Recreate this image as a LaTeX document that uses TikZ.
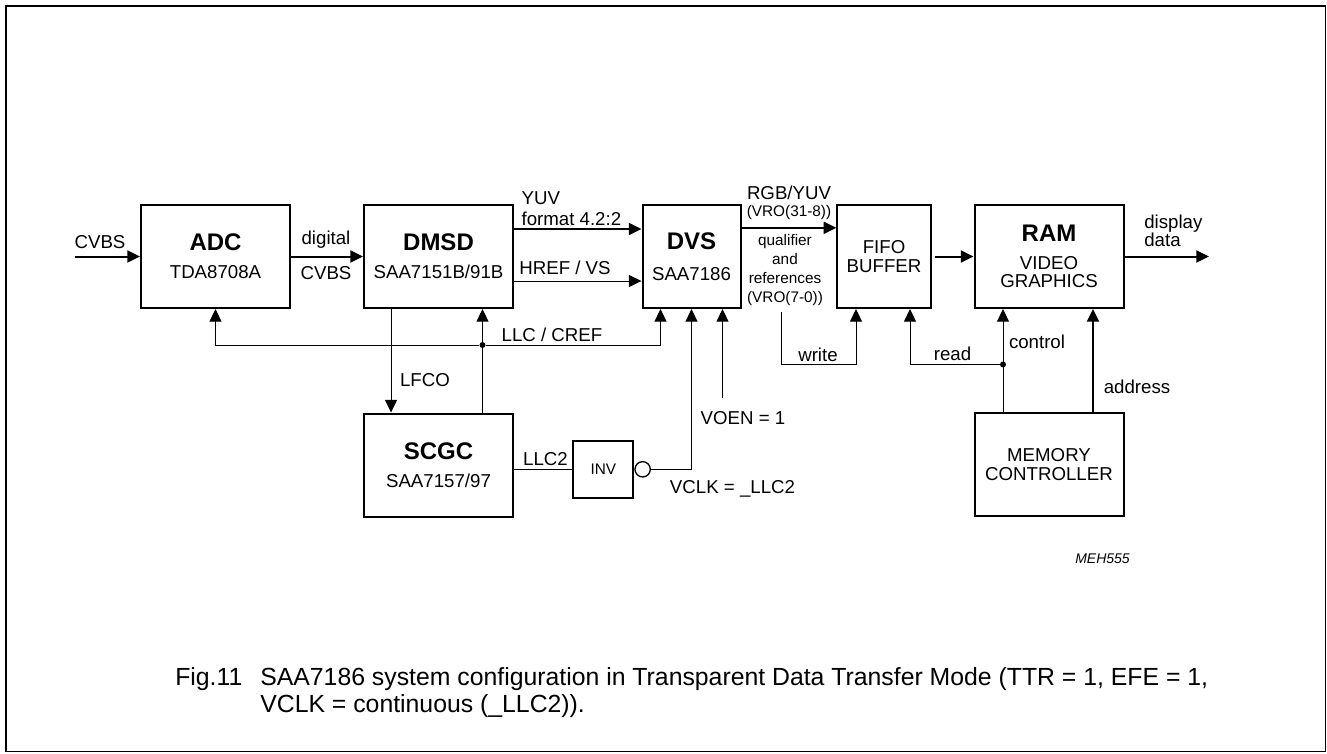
\documentclass[tikz,border=0pt]{standalone}
\usepackage{fontspec}
\setmainfont{Liberation Sans}
\usepackage{tikz}
\usetikzlibrary{arrows.meta}
\newcommand{\blocktitle}{\fontsize{18}{20}\bfseries\selectfont}
\newcommand{\labeltext}{\fontsize{14}{13.9}\selectfont}
\newcommand{\smalltext}{\fontsize{11.5}{14.25}\selectfont}
\newcommand{\captiontext}{\fontsize{18.6}{20.8}\selectfont}

\begin{document}
\begin{tikzpicture}[x=0.75pt,y=-0.75pt,font=\labeltext,
    every node/.style={inner sep=1pt},
    blockbox/.style={draw,line width=1.5pt,inner sep=0pt,align=center,
        minimum width=111.75pt,minimum height=77.25pt},
    invbox/.style={draw,line width=1.5pt,inner sep=0pt,font=\smalltext,
        minimum width=45pt,minimum height=42.75pt},
    bubble/.style={draw,circle,line width=1pt,inner sep=0pt,minimum size=11.5pt},
    dot/.style={circle,fill,inner sep=0pt,minimum size=4.5pt},
    bigarrow/.style={line width=1.5pt,-{Triangle[length=9.5pt,width=9pt]}},
    thinarrow/.style={line width=0.75pt,-{Triangle[length=9.5pt,width=9pt]}},
    thinline/.style={line width=0.75pt}]
            \useasboundingbox (0,0) rectangle (1327,753);
            \draw[line width=1.1pt] (6,6) rectangle (1325.5,751.5);

            \node[blockbox]                     (adc)    at ( 215.5,256.5) {{\blocktitle ADC}\\[7pt]TDA8708A};
            \node[blockbox]                     (dmsd)   at ( 438.5,256.5) {{\blocktitle DMSD}\\[7pt]SAA7151B/91B};
            \node[blockbox,minimum width=73.5pt](dvs)    at ( 691.5,256.5) {{\blocktitle DVS}\\[9pt]SAA7186};
            \node[blockbox,minimum width=70pt]  (fifo)   at ( 884.0,256.5) {FIFO\\BUFFER};
            \node[blockbox]                     (ram)    at (1049.0,256.5) {{\blocktitle RAM}\\[7pt]VIDEO\\GRAPHICS};
            \node[blockbox]                     (scgc)   at ( 438.5,465.0) {{\blocktitle SCGC}\\[7pt]SAA7157/97};
            \node[blockbox]                     (memctl) at (1049.0,464.5) {MEMORY\\CONTROLLER};
            \node[invbox]                       (inv)    at ( 603.3,469.3) {INV};
            \node[bubble,anchor=west]           (bub)    at (inv.east) {};

            \coordinate (cvbsin)  at (75,256.5);
            \coordinate (dispout) at (1209,256.5);
            \coordinate (voenin)  at (722.5,398);
            \coordinate (wrtop)   at (781.5,312);
            \coordinate (llcup)   at ([xshift=33pt]scgc.north);
            \coordinate (ctlup)   at ([xshift=-34.5pt]memctl.north);
            \node[dot] (busdot) at (llcup |- 0,345) {};
            \node[dot] (ctldot) at (ctlup |- 0,364.5) {};

            \draw[bigarrow]  (cvbsin) -- (adc.west);
            \draw[bigarrow]  (adc) -- (dmsd);
            \draw[bigarrow]  ([yshift=20.6pt]dmsd.east) -- ([yshift=20.6pt]dvs.west);
            \draw[thinarrow] ([yshift=-18.4pt]dmsd.east) -- ([yshift=-18.4pt]dvs.west);
            \draw[bigarrow]  ([yshift=21.5pt]dvs.east) -- ([yshift=21.5pt]fifo.west);
            \draw[bigarrow,shorten <=2.5pt] (fifo) -- (ram);
            \draw[bigarrow]  (ram.east) -- (dispout);

            \draw[thinarrow] (llcup) -- (llcup |- dmsd.south);
            \draw[thinarrow] (busdot) -| (adc.south);
            \draw[thinarrow] (busdot) -| ([xshift=-23.25pt]dvs.south);
            \draw[thinarrow] ([xshift=-35.6pt]dmsd.south) -- ([xshift=-35.6pt]scgc.north);
            \draw[thinline]  (scgc.east |- inv.west) -- (inv.west);
            \draw[thinarrow] (bub.east) -| (dvs.south);
            \draw[thinarrow] (voenin) -- (voenin |- dvs.south);

            \draw[thinarrow] (wrtop) -- (wrtop |- 0,364.5) -| ([xshift=-21pt]fifo.south);
            \draw[thinarrow] (ctldot) -| ([xshift=19.5pt]fifo.south);
            \draw[thinarrow] (ctlup) -- (ctlup |- ram.south);
            \draw[bigarrow]  ([xshift=33pt]memctl.north) -- ([xshift=33pt]ram.south);

            \node                       (lcvbs)    at ( 100.0,242.0) {CVBS};
            \node                       (ldigital) at ( 326.0,240.0) {digital};
            \node                       (ldcvbs)   at ( 326.0,273.0) {CVBS};
            \node[align=left,anchor=west] (lyuv)   at ( 520.0,208.5) {YUV\\[2pt]format 4.2:2};
            \node                       (lhref)    at ( 565.0,268.0) {HREF / VS};
            \node                       (lllc)     at ( 552.0,335.0) {LLC / CREF};
            \node                       (llfco)    at ( 425.0,380.0) {LFCO};
            \node                       (lllctwo)  at ( 545.5,459.0) {LLC2};
            \node                       (lvoen)    at ( 743.0,418.0) {VOEN = 1};
            \node                       (lvclk)    at ( 732.5,488.5) {VCLK = \_LLC2};
            \node[align=center]         (lrgb)     at ( 789.0,202.7) {RGB/YUV\\[-1.2pt]{\smalltext (VRO(31-8))}};
            \node[align=center,font=\smalltext] (lqual) at (785.0,270.3) {qualifier\\and\\references\\(VRO(7-0))};
            \node                       (lwrite)   at ( 818.0,355.0) {write};
            \node                       (lread)    at ( 952.5,354.0) {read};
            \node                       (lcontrol) at (1037.0,341.7) {control};
            \node                       (laddress) at (1137.0,387.0) {address};
            \node[align=left,anchor=west] (ldisplay) at (1142.7,231.0) {display\\data};
            \node[font=\fontsize{10.5}{12}\itshape\selectfont] (lcode) at (1102.5,558.3) {MEH555};
            \node[font=\captiontext,anchor=base west] (lfig)  at (173.7,685.0) {Fig.11};
            \node[font=\captiontext,anchor=base west] (lcapa) at (258.7,685.0) {SAA7186 system configuration in Transparent Data Transfer Mode (TTR = 1, EFE = 1,};
            \node[font=\captiontext,anchor=base west] (lcapb) at (258.7,712.7) {VCLK = continuous (\_LLC2)).};
        \end{tikzpicture}
\end{document}
